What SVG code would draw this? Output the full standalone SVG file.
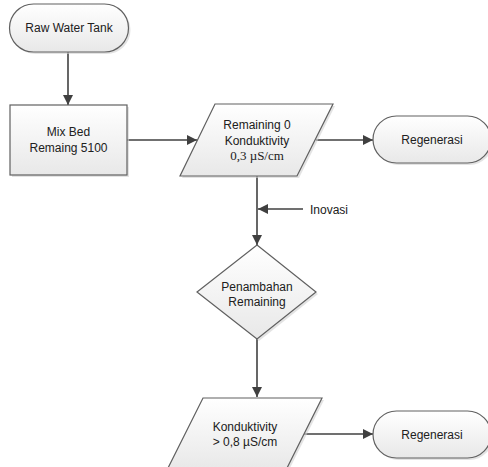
<svg xmlns="http://www.w3.org/2000/svg" width="488" height="467" viewBox="0 0 488 467">
<defs>
<linearGradient id="g" x1="0" y1="0" x2="0" y2="1">
<stop offset="0" stop-color="#ffffff"/>
<stop offset="1" stop-color="#e8e8e8"/>
</linearGradient>
<marker id="arr" viewBox="0 0 10 10" refX="10" refY="5" markerWidth="6.5" markerHeight="6.5" orient="auto" markerUnits="strokeWidth">
<path d="M0,0 L10,5 L0,10 z" fill="#404040"/>
</marker>
</defs>
<style>
.shape{fill:url(#g);stroke:#606060;stroke-width:1.2}
.shadow{fill:#d0d0d0;stroke:none;opacity:0.6}
.t{font-family:"Liberation Sans",Arial,sans-serif;font-size:12px;fill:#202020;text-anchor:middle}
.ts{font-family:"Liberation Serif","Times New Roman",serif;font-size:13px;fill:#202020;text-anchor:middle}
.c{fill:none;stroke:#404040;stroke-width:1.6}
.ca{fill:none;stroke:#404040;stroke-width:1.6;marker-end:url(#arr)}
</style>
<rect width="488" height="467" fill="#ffffff"/>
<g id="connectors">
<line class="ca" x1="68" y1="52" x2="68" y2="105"/>
<line class="ca" x1="127" y1="140" x2="197" y2="140"/>
<line class="ca" x1="316" y1="140" x2="373" y2="140"/>
<line class="ca" x1="257" y1="176" x2="257" y2="245"/>
<line class="ca" x1="303" y1="209" x2="258" y2="209"/>
<line class="ca" x1="257" y1="339" x2="257" y2="397"/>
<line class="ca" x1="304" y1="434" x2="373" y2="434"/>
</g>
<g id="raw-water-tank">
<rect class="shadow" x="11.5" y="6" width="119" height="48" rx="24"/>
<rect class="shape" x="9.5" y="4" width="119" height="48" rx="24"/>
<text class="t" x="69" y="32">Raw Water Tank</text>
</g>
<g id="mix-bed">
<rect class="shadow" x="12" y="107" width="117" height="70"/>
<rect class="shape" x="10" y="105" width="117" height="70"/>
<text class="t" x="68.5" y="136">Mix Bed</text>
<text class="t" x="68.5" y="152">Remaing 5100</text>
</g>
<g id="remaining-0">
<polygon class="shadow" points="217,106 335,106 299,178 182,178"/>
<polygon class="shape" points="215,104 333,104 297,176 180,176"/>
<text class="t" x="257" y="129">Remaining 0</text>
<text class="t" x="257" y="145">Konduktivity</text>
<text class="ts" x="257" y="160">0,3 µS/cm</text>
</g>
<g id="regenerasi-1">
<rect class="shadow" x="375" y="118" width="118" height="47" rx="23.5"/>
<rect class="shape" x="373" y="116" width="118" height="47" rx="23.5"/>
<text class="t" x="432" y="144">Regenerasi</text>
</g>
<g id="inovasi">
<text class="t" x="310" y="214" style="text-anchor:start">Inovasi</text>
</g>
<g id="penambahan-remaining">
<polygon class="shadow" points="259,247 318,294 259,341 199,294"/>
<polygon class="shape" points="257,245 316,292 257,339 197,292"/>
<text class="t" x="257" y="291">Penambahan</text>
<text class="t" x="257" y="306">Remaining</text>
</g>
<g id="konduktivity">
<polygon class="shadow" points="205,400 324,400 288,472 169,472"/>
<polygon class="shape" points="203,398 322,398 286,470 167,470"/>
<text class="t" x="245" y="431">Konduktivity</text>
<text class="t" x="245" y="446">&gt; 0,8 µS/cm</text>
</g>
<g id="regenerasi-2">
<rect class="shadow" x="375" y="413" width="118" height="47" rx="23.5"/>
<rect class="shape" x="373" y="411" width="118" height="47" rx="23.5"/>
<text class="t" x="432" y="439">Regenerasi</text>
</g>
</svg>
